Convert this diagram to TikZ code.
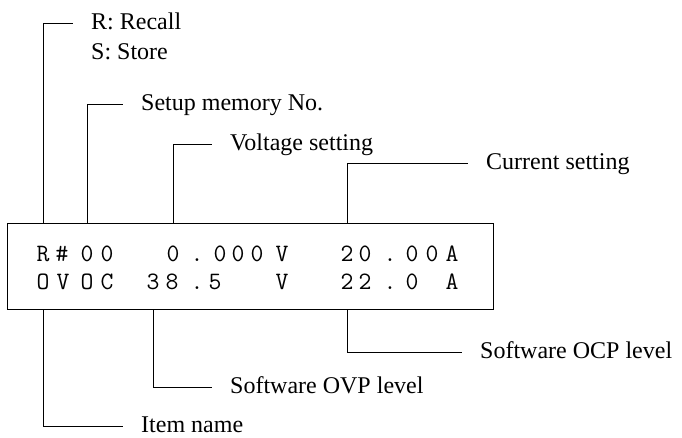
\documentclass[tikz,border=0pt]{standalone}
\usepackage{fontspec}
\setmainfont{Liberation Serif}
\usetikzlibrary{calc}

\begin{document}
\begin{tikzpicture}[x=1pt,y=-1pt,
    panel/.style={draw,line width=0.9pt,minimum width=486pt,minimum height=86pt,inner sep=0pt},
    lcd/.style={anchor=base,inner sep=0pt,font=\fontsize{25}{28}\selectfont\ttfamily},
    callout/.style={anchor=west,inner xsep=18pt,inner ysep=0pt,
      text height=15pt,text depth=2pt,font=\fontsize{24}{28}\selectfont\rmfamily},
    lead/.style={line width=0.8pt}
  ]
    \useasboundingbox (0,0) rectangle (682,437);
    \node[panel] (disp) at (250,266) {};
    % display characters, upper and lower row
    \foreach \x/\c/\n in {43/R/a1,62/\#/a2,87/0/a3,107/0/a4,173/0/a5,197/./a6,
        220/0/a7,238/0/a8,257/0/a9,282/V/a10,347/2/a11,365/0/a12,390/./a13,
        412/0/a14,432/0/a15,452/A/a16}
      \node[lcd] (\n) at (\x,261) {\c};
    \foreach \x/\c/\n in {43/O/b1,63/V/b2,87/O/b3,107/C/b4,153/3/b5,172/8/b6,
        197/./b7,215/5/b8,282/V/b9,347/2/b10,365/2/b11,390/./b12,412/0/b13,452/A/b14}
      \node[lcd] (\n) at (\x,289) {\c};
    % callouts
    \node[callout] (recall) at (73,23) {R: Recall};
    \node[callout] (store) at (73,53) {S: Store};
    \node[callout] (setup) at (123,104) {Setup memory No.};
    \node[callout] (volt) at (212,144) {Voltage setting};
    \node[callout] (curr) at (468,163) {Current setting};
    \node[callout] (ocp) at (462,352) {Software OCP level};
    \node[callout] (ovp) at (212,387) {Software OVP level};
    \node[callout] (item) at (123,426) {Item name};
    \draw[lead] (a1 |- disp.north) |- (recall.west);
    \draw[lead] (a3 |- disp.north) |- (setup.west);
    \draw[lead] (a5 |- disp.north) |- (volt.west);
    \draw[lead] (a11 |- disp.north) |- (curr.west);
    \draw[lead] (b1 |- disp.south) |- (item.west);
    \draw[lead] (b5 |- disp.south) |- (ovp.west);
    \draw[lead] (b10 |- disp.south) |- (ocp.west);
  \end{tikzpicture}
\end{document}
